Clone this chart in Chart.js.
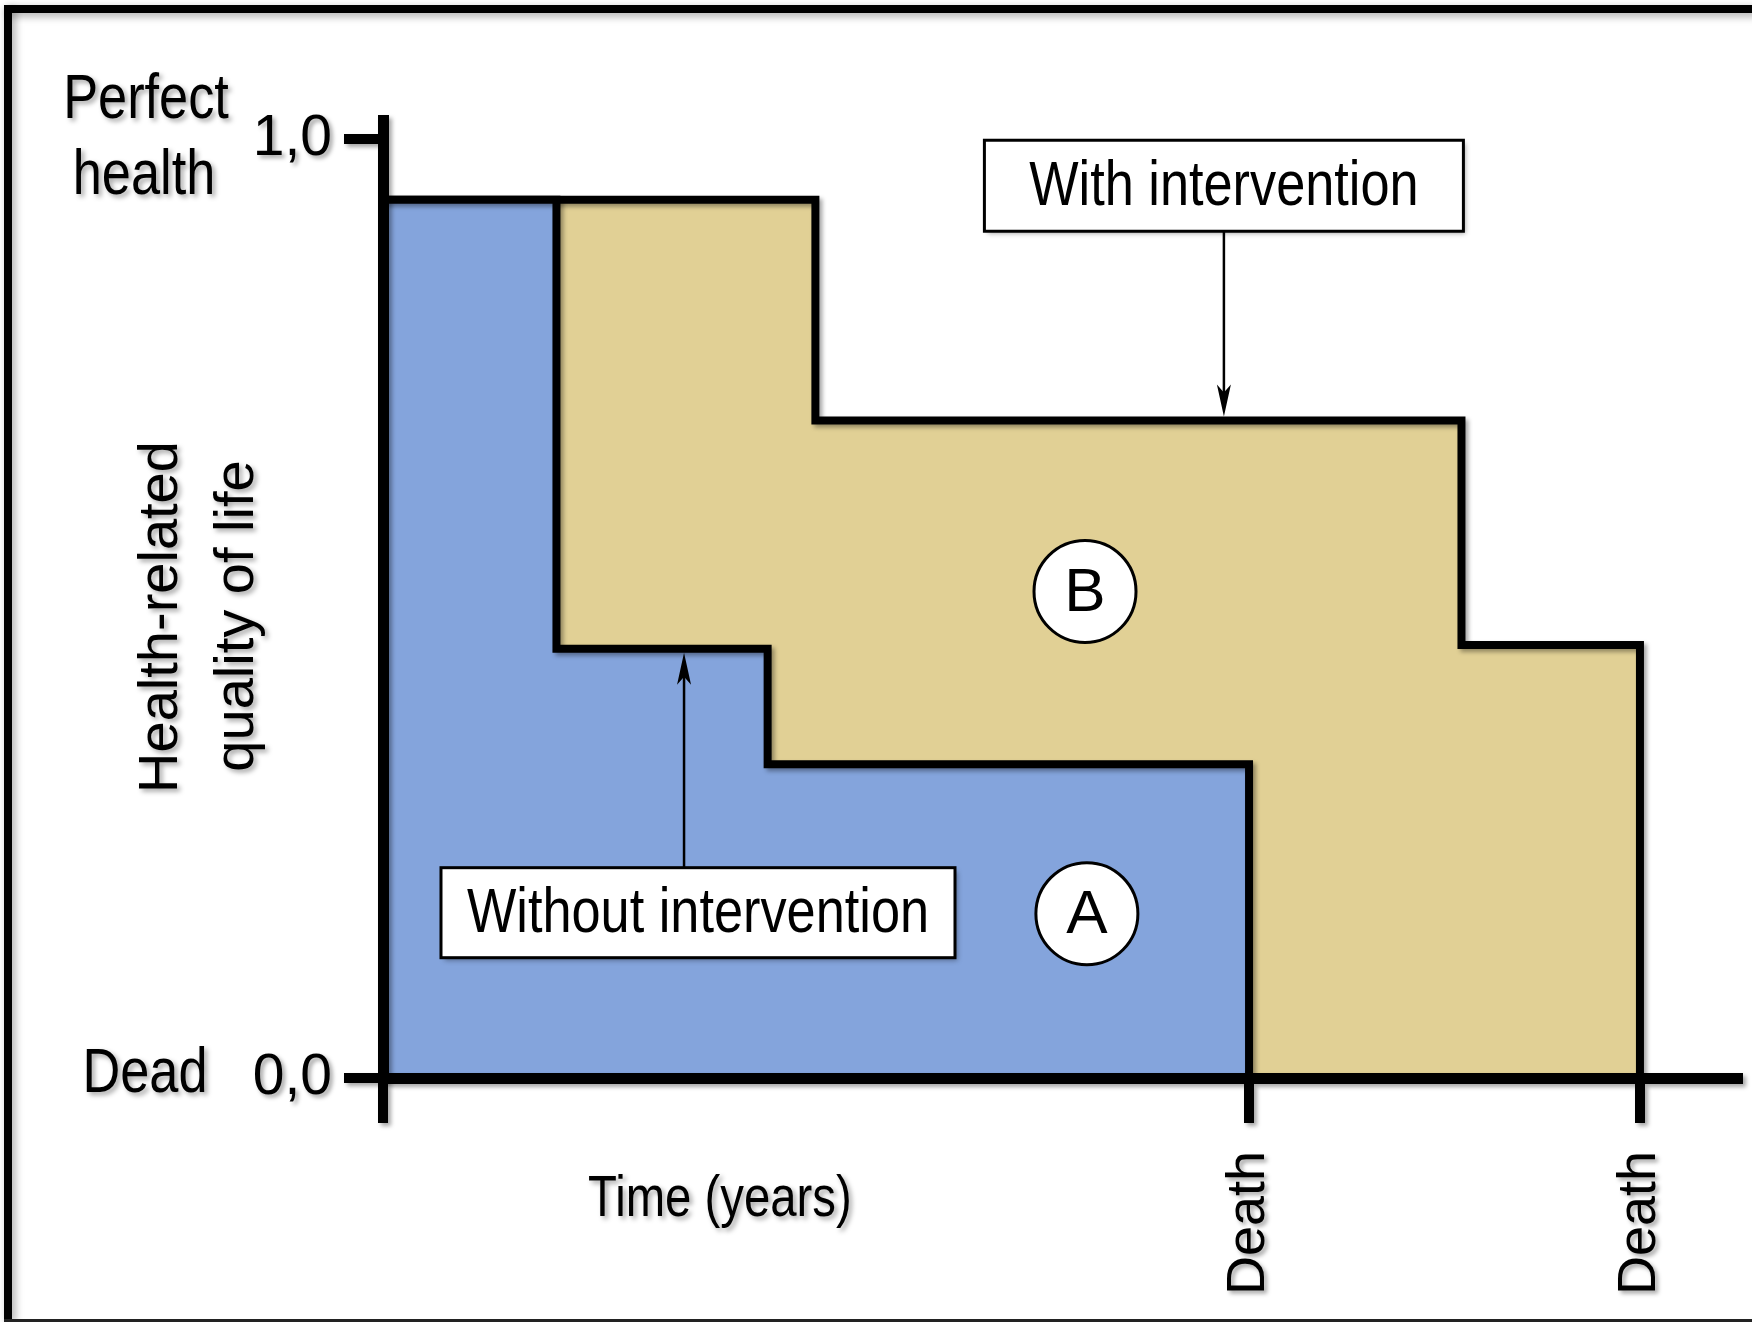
<!DOCTYPE html>
<html>
<head>
<meta charset="utf-8">
<script src="https://cdn.jsdelivr.net/npm/chart.js@4.4.1/dist/chart.umd.min.js"></script>
<style>
  html, body { margin: 0; padding: 0; background: #fff; }
  canvas { display: block; }
</style>
</head>
<body>
<canvas id="qaly-chart" width="1752" height="1322"></canvas>
<script>
// time in years (arbitrary units, death with intervention = 10)
const timeWithout = [0, 1.38, 3.06, 6.89];
const qolWithout = [0.935, 0.457, 0.334, 0];
const timeWith = [0, 3.44, 8.58, 10];
const qolWith = [0.935, 0.70, 0.461, 0];

const xTicks = [0, 6.89, 10];
const xTickLabels = ['', 'Death', 'Death'];
const yTicks = [0, 1];
const yTickLabels = ['0,0', '1,0'];

const SANS = "'Liberation Sans', Arial, sans-serif";
const SQUEEZE = 0.83; // the original labels use a narrow face

const toPoints = (xs, ys) => xs.map((x, i) => ({ x: x, y: ys[i] }));

function shadow(ctx, on, blur) {
  ctx.shadowColor = on ? 'rgba(0,0,0,0.35)' : 'transparent';
  ctx.shadowBlur = on ? (blur || 5) : 0;
  ctx.shadowOffsetX = on ? 3 : 0;
  ctx.shadowOffsetY = on ? 3 : 0;
}

function text(ctx, str, x, y, size, opts) {
  opts = opts || {};
  ctx.save();
  ctx.translate(x, y);
  if (opts.rotate) ctx.rotate(-Math.PI / 2);
  if (opts.narrow) ctx.scale(SQUEEZE, 1);
  ctx.font = size + 'px ' + SANS;
  ctx.fillStyle = '#000';
  ctx.textAlign = 'center';
  ctx.textBaseline = 'middle';
  ctx.fillText(str, 0, 0);
  ctx.restore();
}

function arrow(ctx, x, fromY, toY) {
  const dir = toY > fromY ? 1 : -1;
  ctx.beginPath();
  ctx.moveTo(x, fromY);
  ctx.lineTo(x, toY - dir * 20);
  ctx.lineWidth = 2.5;
  ctx.strokeStyle = '#000';
  ctx.stroke();
  ctx.beginPath();
  ctx.moveTo(x, toY);
  ctx.lineTo(x - 7, toY - dir * 32);
  ctx.lineTo(x, toY - dir * 24);
  ctx.lineTo(x + 7, toY - dir * 32);
  ctx.closePath();
  ctx.fillStyle = '#000';
  ctx.fill();
}

function box(ctx, cx, cy, w, h, label) {
  ctx.save();
  shadow(ctx, true);
  ctx.fillStyle = '#fff';
  ctx.fillRect(cx - w / 2, cy - h / 2, w, h);
  shadow(ctx, false);
  ctx.lineWidth = 3;
  ctx.strokeStyle = '#000';
  ctx.strokeRect(cx - w / 2, cy - h / 2, w, h);
  text(ctx, label, cx, cy + 2, 63, { narrow: true });
  ctx.restore();
}

function circle(ctx, cx, cy, r, label) {
  ctx.save();
  ctx.beginPath();
  ctx.arc(cx, cy, r, 0, Math.PI * 2);
  ctx.fillStyle = '#fff';
  ctx.fill();
  ctx.lineWidth = 3;
  ctx.strokeStyle = '#000';
  ctx.stroke();
  text(ctx, label, cx, cy + 2, 62);
  ctx.restore();
}

const decorations = {
  id: 'decorations',
  // soft shadow under the step outlines and the axes, like the original drawing
  beforeDatasetDraw(chart) { shadow(chart.ctx, true, 4); },
  afterDatasetDraw(chart) { shadow(chart.ctx, false); },
  afterDatasetsDraw(chart) { shadow(chart.ctx, true, 4); },
  afterDraw(chart) {
    const { ctx, scales: { x, y } } = chart;
    shadow(ctx, false);
    ctx.save();

    // outer frame
    shadow(ctx, true, 8);
    ctx.fillStyle = '#000';
    ctx.fillRect(4, 5, 1752, 8);
    ctx.fillRect(4, 5, 8, 1315);
    shadow(ctx, false);
    ctx.fillStyle = '#222';
    ctx.fillRect(4, 1319, 1752, 3);

    // labels beside the value axis and the axis titles
    shadow(ctx, true);
    const yTop = y.getPixelForValue(1);
    const yBottom = y.getPixelForValue(0);
    text(ctx, 'Perfect', 146, yTop - 38, 63, { narrow: true });
    text(ctx, 'health', 144, yTop + 38, 63, { narrow: true });
    text(ctx, 'Dead', 145, yBottom - 3, 63, { narrow: true });
    text(ctx, 'Health-related', 162, 617, 56, { rotate: true });
    text(ctx, 'quality of life', 238, 616, 56, { rotate: true });
    text(ctx, 'Time (years)', x.getPixelForValue(2.68), 1200, 57, { narrow: true });
    shadow(ctx, false);

    // annotations
    const withX = x.getPixelForValue(6.69);
    const withBoxY = y.getPixelForValue(0.95);
    arrow(ctx, withX, withBoxY + 45, y.getPixelForValue(qolWith[1]) - 4);
    box(ctx, withX, withBoxY, 479, 91, 'With intervention');

    const withoutX = x.getPixelForValue(2.395);
    const withoutBoxX = x.getPixelForValue(2.506);
    const withoutBoxY = y.getPixelForValue(0.176);
    arrow(ctx, withoutX, withoutBoxY - 45, y.getPixelForValue(qolWithout[1]) + 4);
    box(ctx, withoutBoxX, withoutBoxY, 514, 90, 'Without intervention');

    circle(ctx, x.getPixelForValue(5.585), y.getPixelForValue(0.518), 51, 'B');
    circle(ctx, x.getPixelForValue(5.60), y.getPixelForValue(0.175), 51, 'A');

    ctx.restore();
  }
};

const ctx = document.getElementById('qaly-chart').getContext('2d');

new Chart(ctx, {
  type: 'line',
  data: {
    datasets: [
      {
        label: 'Without intervention',
        data: toPoints(timeWithout, qolWithout),
        stepped: true,
        fill: 'origin',
        backgroundColor: '#84a4dc',
        borderColor: '#000',
        borderWidth: 8,
        borderJoinStyle: 'miter',
        pointRadius: 0
      },
      {
        label: 'With intervention',
        data: toPoints(timeWith, qolWith),
        stepped: true,
        fill: 'origin',
        backgroundColor: '#e1d095',
        borderColor: '#000',
        borderWidth: 8,
        borderJoinStyle: 'miter',
        pointRadius: 0
      }
    ]
  },
  options: {
    responsive: false,
    devicePixelRatio: 1,
    animation: false,
    events: [],
    layout: { padding: { left: 0, top: 120, right: 14, bottom: 0 } },
    plugins: {
      legend: { display: false },
      tooltip: { enabled: false }
    },
    scales: {
      x: {
        type: 'linear',
        min: 0,
        max: 10.78,
        afterFit: (scale) => { scale.height = 244; },
        afterBuildTicks: (scale) => { scale.ticks = xTicks.map((v) => ({ value: v })); },
        border: { display: true, color: '#000', width: 11, z: 1 },
        grid: { drawOnChartArea: false, drawTicks: true, tickLength: 45, color: '#000', lineWidth: 10, z: 1 },
        ticks: {
          z: 1,
          autoSkip: false,
          minRotation: 90,
          maxRotation: 90,
          padding: 28,
          color: '#000',
          font: { family: SANS, size: 54 },
          callback: (value) => xTickLabels[xTicks.indexOf(value)]
        }
      },
      y: {
        type: 'linear',
        min: 0,
        max: 1.02,
        afterFit: (scale) => { scale.width = 383; },
        afterBuildTicks: (scale) => { scale.ticks = yTicks.map((v) => ({ value: v })); },
        border: { display: true, color: '#000', width: 11, z: 1 },
        grid: { drawOnChartArea: false, drawTicks: true, tickLength: 39, color: '#000', lineWidth: 10, z: 1 },
        ticks: {
          z: 1,
          padding: 12,
          color: '#000',
          font: { family: SANS, size: 57 },
          callback: (value) => yTickLabels[yTicks.indexOf(value)]
        }
      }
    }
  },
  plugins: [decorations]
});
</script>
</body>
</html>
